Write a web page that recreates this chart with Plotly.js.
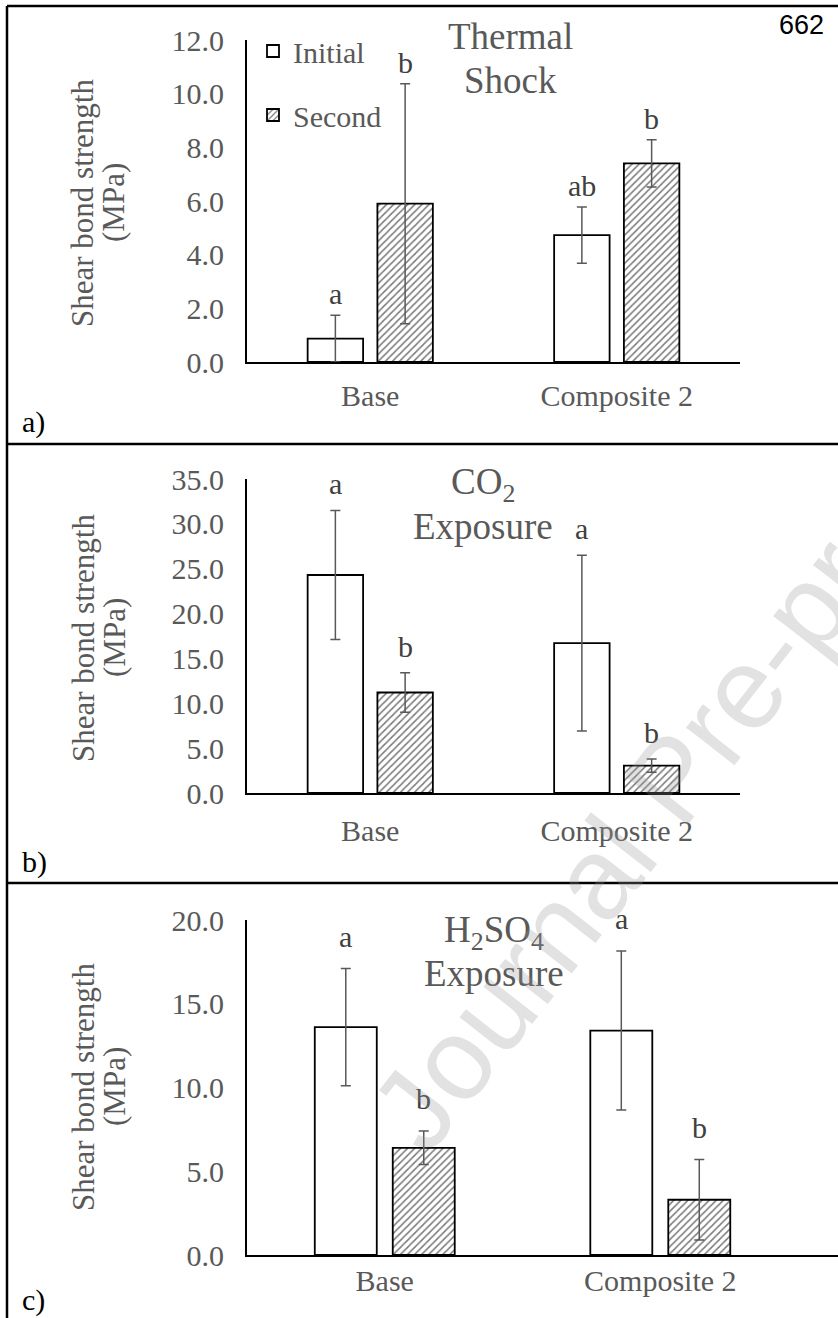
<!DOCTYPE html>
<html><head><meta charset="utf-8">
<script src="https://cdn.plot.ly/plotly-3.0.1.min.js"></script>
<style>html,body{margin:0;padding:0;background:#fff;} #chart{width:838px;height:1318px;}</style>
</head><body><div id="chart"></div>
<script>
// ---------------- DATA ----------------
const categories = ['Base', 'Composite 2'];
const seriesNames = ['Initial', 'Second'];

// a) Thermal shock
const thermalInitial = [0.87, 4.73];
const thermalInitialErr = [0.87, 1.05];
const thermalSecond = [5.90, 7.40];
const thermalSecondErr = [4.47, 0.88];
const thermalInitialLetters = ['a', 'ab'];
const thermalSecondLetters = ['b', 'b'];

// b) CO2 exposure
const co2Initial = [24.3, 16.7];
const co2InitialErr = [7.2, 9.8];
const co2Second = [11.2, 3.05];
const co2SecondErr = [2.2, 0.75];
const co2InitialLetters = ['a', 'a'];
const co2SecondLetters = ['b', 'b'];

// c) H2SO4 exposure
const h2so4Initial = [13.6, 13.4];
const h2so4InitialErr = [3.5, 4.75];
const h2so4Second = [6.4, 3.3];
const h2so4SecondErr = [1.0, 2.4];
const h2so4InitialLetters = ['a', 'a'];
const h2so4SecondLetters = ['b', 'b'];

const panelTitles = [['Thermal', 'Shock'], ['CO<sub>2</sub>', 'Exposure'], ['H<sub>2</sub>SO<sub>4</sub>', 'Exposure']];
const panelLabels = ['a)', 'b)', 'c)'];
const yTitleLines = ['Shear bond strength', '(MPa)'];
const yMax = [12, 35, 20];
const yStep = [2, 5, 5];
const pageNumber = '662';
const watermark = 'Journal Pre-proof';

// ---------------- LAYOUT HELPERS ----------------
const W = 838, H = 1318;
const px = v => v / W;
const py = v => 1 - v / H;
const serif = 'Liberation Serif, Times New Roman, serif';
const GRAY = '#595959';

const panels = [
  {ini: thermalInitial, iniErr: thermalInitialErr, sec: thermalSecond, secErr: thermalSecondErr,
   iniL: thermalInitialLetters, secL: thermalSecondLetters,
   x0: 247, x1: 740, xmax: 1.5, yb: 362, yt: 40, tstand: 6, lshift: 3,
   tx: 511, t1: 37, t2: 80, ylab: 203, plab: 422},
  {ini: co2Initial, iniErr: co2InitialErr, sec: co2Second, secErr: co2SecondErr,
   iniL: co2InitialLetters, secL: co2SecondLetters,
   x0: 247, x1: 740, xmax: 1.5, yb: 793, yt: 479, tstand: 10, lshift: 8,
   tx: 483, t1: 484, t2: 526, ylab: 638, plab: 862},
  {ini: h2so4Initial, iniErr: h2so4InitialErr, sec: h2so4Second, secErr: h2so4SecondErr,
   iniL: h2so4InitialLetters, secL: h2so4SecondLetters,
   x0: 247, x1: 838, xmax: 1.645, yb: 1255, yt: 920, tstand: -2, lshift: 14,
   tx: 494, t1: 932, t2: 973, ylab: 1087, plab: 1300}
];

const bargap = 0.434, bargroupgap = 0.205;
const off = (1 - bargap) / 4;

const traces = [];
const annotations = [];
const layout = {
  width: W, height: H, autosize: false,
  margin: {l: 0, r: 0, t: 0, b: 0, pad: 0},
  paper_bgcolor: '#ffffff', plot_bgcolor: 'rgba(0,0,0,0)',
  barmode: 'group', bargap: bargap, bargroupgap: bargroupgap,
  showlegend: true,
  legend: {x: px(253), y: py(25), xanchor: 'left', yanchor: 'top',
    font: {family: serif, size: 30, color: GRAY}, bgcolor: 'rgba(0,0,0,0)',
    tracegroupgap: 22, itemwidth: 30, traceorder: 'grouped'},
  shapes: [],
  annotations: annotations
};

panels.forEach((p, k) => {
  const n = k === 0 ? '' : String(k + 1);
  const xa = 'x' + n, ya = 'y' + n;
  const errStyle = {type: 'data', visible: true, color: GRAY, thickness: 1.5, width: 5};
  traces.push({
    type: 'bar', x: categories, y: p.ini, xaxis: xa, yaxis: ya, name: seriesNames[0],
    legendgroup: 'ini', showlegend: k === 0,
    marker: {color: '#ffffff', line: {color: '#000000', width: 1.8}},
    error_y: Object.assign({array: p.iniErr}, errStyle), hoverinfo: 'none'
  });
  traces.push({
    type: 'bar', x: categories, y: p.sec, xaxis: xa, yaxis: ya, name: seriesNames[1],
    legendgroup: 'sec', showlegend: k === 0,
    marker: {color: '#ffffff', line: {color: '#000000', width: 1.8},
      pattern: {shape: '/', fgcolor: '#7a7a7a', bgcolor: '#ffffff', size: 5, solidity: 0.3}},
    error_y: Object.assign({array: p.secErr}, errStyle), hoverinfo: 'none'
  });

  layout['xaxis' + n] = {
    domain: [px(p.x0), px(p.x1)], anchor: ya, type: 'category', range: [-0.5, p.xmax],
    showline: true, linecolor: '#000000', linewidth: 2.2, ticks: '', showgrid: false, zeroline: false,
    tickfont: {family: serif, size: 30, color: GRAY}, ticklabelstandoff: p.tstand, fixedrange: true
  };
  const tv = [];
  for (let v = 0; v <= yMax[k] + 1e-9; v += yStep[k]) tv.push(v);
  layout['yaxis' + n] = {
    domain: [py(p.yb), py(p.yt)], anchor: xa, range: [0, yMax[k]],
    tickvals: tv, tickformat: '.1f',
    showline: true, linecolor: '#000000', linewidth: 2, ticks: '', showgrid: false, zeroline: false,
    tickfont: {family: serif, size: 30, color: GRAY}, ticklabelstandoff: 15, fixedrange: true
  };

  // significance letters
  [[p.ini, p.iniErr, p.iniL, -off], [p.sec, p.secErr, p.secL, off]].forEach(([vals, errs, lets, o]) => {
    vals.forEach((v, i) => {
      annotations.push({xref: xa, yref: ya, x: i + o, y: v + errs[i], text: lets[i],
        showarrow: false, yanchor: 'bottom', yshift: p.lshift,
        font: {family: serif, size: 30, color: '#404040'}});
    });
  });

  // panel title (two lines)
  annotations.push({xref: 'paper', yref: 'paper', x: px(p.tx), y: py(p.t1), text: panelTitles[k][0],
    showarrow: false, xanchor: 'center', yanchor: 'middle', font: {family: serif, size: 37, color: GRAY}});
  annotations.push({xref: 'paper', yref: 'paper', x: px(p.tx), y: py(p.t2), text: panelTitles[k][1],
    showarrow: false, xanchor: 'center', yanchor: 'middle', font: {family: serif, size: 37, color: GRAY}});

  // y title (two rotated lines)
  annotations.push({xref: 'paper', yref: 'paper', x: px(83), y: py(p.ylab), text: yTitleLines[0],
    showarrow: false, textangle: -90, xanchor: 'center', yanchor: 'middle',
    font: {family: serif, size: 31, color: GRAY}});
  annotations.push({xref: 'paper', yref: 'paper', x: px(114), y: py(p.ylab), text: yTitleLines[1],
    showarrow: false, textangle: -90, xanchor: 'center', yanchor: 'middle',
    font: {family: serif, size: 31, color: GRAY}});

  // panel label
  annotations.push({xref: 'paper', yref: 'paper', x: px(20), y: py(p.plab), text: panelLabels[k],
    showarrow: false, xanchor: 'left', yanchor: 'middle', font: {family: serif, size: 30, color: '#000000'}});
});

// page number
annotations.push({xref: 'paper', yref: 'paper', x: px(826), y: py(25), text: pageNumber,
  showarrow: false, xanchor: 'right', yanchor: 'middle',
  font: {family: 'Liberation Sans, Arial, sans-serif', size: 27, color: '#000000'}});

// watermark
annotations.push({xref: 'paper', yref: 'paper', x: px(672), y: py(780), text: watermark,
  showarrow: false, textangle: -52, xanchor: 'center', yanchor: 'middle',
  font: {family: 'Liberation Sans, Arial, sans-serif', size: 116, color: 'rgba(150,150,150,0.28)'}});

// panel frame lines
const lw = 2.5;
[[7, 6, W, 6], [7, 444, W, 444], [7, 883, W, 883], [7, 6, 7, H]].forEach(([a, b, c, d]) => {
  layout.shapes.push({type: 'line', xref: 'paper', yref: 'paper', x0: px(a), y0: py(b), x1: px(c), y1: py(d),
    line: {color: '#000000', width: lw}});
});

Plotly.newPlot('chart', traces, layout, {staticPlot: true, displayModeBar: false});
</script>
</body></html>
